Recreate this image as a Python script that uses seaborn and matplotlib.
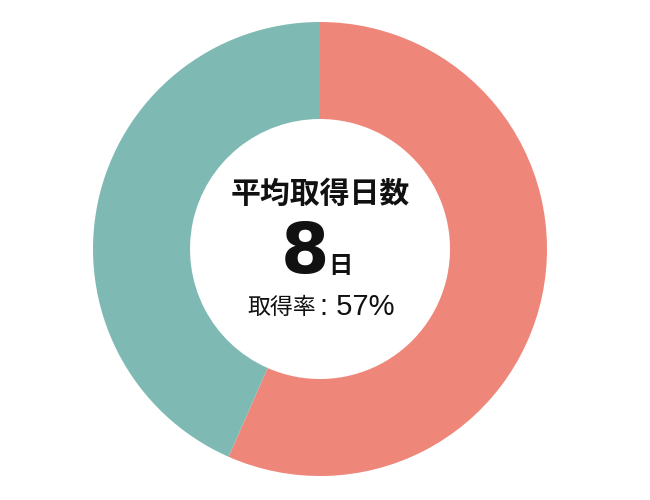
import matplotlib
matplotlib.use("Agg")
import matplotlib.pyplot as plt
import seaborn as sns

sns.set_theme(style="white")
plt.rcParams['font.family'] = ['Noto Sans CJK JP', 'DejaVu Sans']

labels = ["取得", "未取得"]
values = [56.6, 43.4]
colors = ["#EE877A", "#7EBAB3"]
title_text = "平均取得日数"
days_value = "8"
days_unit = "日"
rate_label = "取得率"
rate_value = ": 57%"

fig = plt.figure(figsize=(6.5, 5), dpi=100)
ax = fig.add_axes([0, 0, 1, 1])

cx, cy = 320, 251
ax.pie(values, colors=colors, startangle=90, counterclock=False,
       center=(cx, cy), radius=227, frame=True,
       wedgeprops=dict(width=97, edgecolor="none"))
ax.set_xlim(0, 650)
ax.set_ylim(0, 500)
ax.set_aspect("equal")
ax.axis("off")

ax.text(cx, 500 - 194, title_text, ha="center", va="center", fontsize=21.5,
        fontweight="bold", color="#111111")
ax.text(305, 500 - 254, days_value, ha="center", va="center", fontsize=50,
        fontweight="bold", color="#111111",
        family=['DejaVu Sans'])
ax.text(340, 500 - 266, days_unit, ha="center", va="center", fontsize=17.5,
        fontweight="bold", color="#111111")
ax.text(282, 500 - 307, rate_label, ha="center", va="center", fontsize=16.5,
        color="#111111")
ax.text(320, 500 - 307, rate_value, ha="left", va="center", fontsize=21,
        color="#111111", family=['Liberation Sans', 'DejaVu Sans'])

fig.savefig("out.png", dpi=100)
